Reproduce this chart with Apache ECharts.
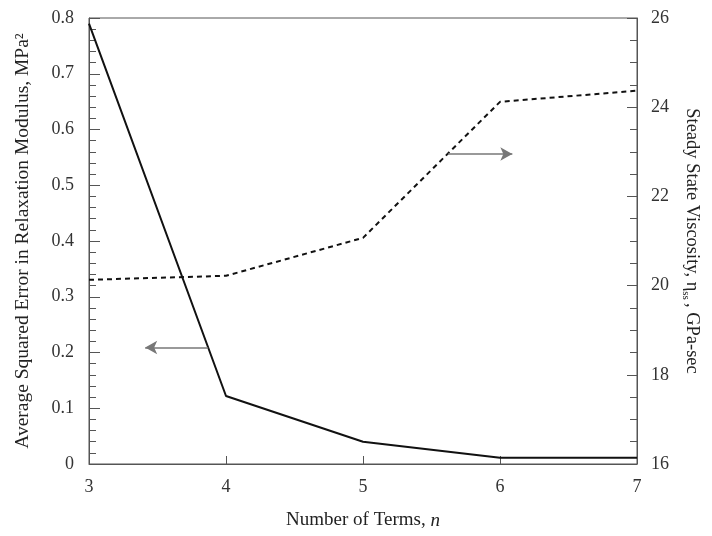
<!DOCTYPE html>
<html>
<head>
<meta charset="utf-8">
<script src="https://cdn.jsdelivr.net/npm/echarts@6/dist/echarts.min.js"></script>
<style>
  html, body { margin: 0; padding: 0; background: #fff; }
  #chart { width: 712px; height: 536px; }
</style>
</head>
<body>
<div id="chart"></div>
<script>
'use strict';

// number of terms in the series
var terms = [3, 4, 5, 6, 7];
// average squared error (left axis, MPa^2)
var errorValues = [0.79, 0.122, 0.040, 0.011, 0.011];
// steady state viscosity (right axis, GPa-sec)
var viscosityValues = [20.13, 20.22, 21.07, 24.12, 24.37];

// the two pointer arrows [x, y] start -> end
var leftArrow = [[3.87, 0.209], [3.41, 0.209]];
var rightArrow = [[5.62, 22.95], [6.09, 22.95]];

var font = 'Liberation Serif, Times New Roman, serif';

function pairs(xs, ys) {
    return xs.map(function (x, i) { return [x, ys[i]]; });
}

var chart = echarts.init(document.getElementById('chart'));

var option = {
    animation: false,
    backgroundColor: '#fff',
    textStyle: { fontFamily: font },
    grid: {
        left: 89, right: 75, top: 18, bottom: 72,
        outerBoundsMode: 'none',
        containLabel: false,
        show: true, borderColor: '#555', borderWidth: 1
    },
    xAxis: {
        type: 'value',
        min: 3, max: 7, interval: 1,
        name: 'Number of Terms, {i|n}',
        nameLocation: 'middle',
        nameGap: 47,
        nameTextStyle: {
            fontFamily: font, fontSize: 19, color: '#222',
            rich: { i: { fontFamily: font, fontSize: 19, fontStyle: 'italic', color: '#222' } }
        },
        axisLine: { lineStyle: { color: '#555', width: 1 } },
        axisTick: { inside: true, length: 8, lineStyle: { color: '#555' } },
        axisLabel: { fontFamily: font, fontSize: 18, color: '#333', margin: 14 },
        splitLine: { show: false }
    },
    yAxis: [{
        type: 'value',
        min: 0, max: 0.8, interval: 0.1,
        name: 'Average Squared Error in Relaxation Modulus, MPa²',
        nameLocation: 'middle',
        nameGap: 56,
        nameTextStyle: { fontFamily: font, fontSize: 19.5, color: '#222' },
        axisLine: { show: true, lineStyle: { color: '#555', width: 1 } },
        axisTick: { inside: true, length: 11, lineStyle: { color: '#555' } },
        minorTick: { show: true, splitNumber: 5, length: 7, lineStyle: { color: '#555' } },
        axisLabel: { fontFamily: font, fontSize: 18, color: '#333', margin: 15 },
        splitLine: { show: false }
    }, {
        type: 'value',
        position: 'right',
        min: 16, max: 26, interval: 2,
        name: 'Steady State Viscosity, η{s|ss}, GPa-sec',
        nameLocation: 'middle',
        nameRotate: -90,
        nameGap: 40,
        nameTextStyle: {
            fontFamily: font, fontSize: 18.5, color: '#222', lineHeight: 24,
            rich: { s: { fontFamily: font, fontSize: 11, color: '#222', lineHeight: 24, verticalAlign: 'bottom', padding: [12, 3, 0, 0] } }
        },
        axisLine: { show: true, lineStyle: { color: '#555', width: 1 } },
        axisTick: { inside: true, length: 10, lineStyle: { color: '#555' } },
        minorTick: { show: true, splitNumber: 4, length: 7, lineStyle: { color: '#555' } },
        axisLabel: { fontFamily: font, fontSize: 18, color: '#333', margin: 14 },
        splitLine: { show: false }
    }],
    series: [{
        name: 'Average Squared Error',
        type: 'line',
        yAxisIndex: 0,
        data: pairs(terms, errorValues),
        showSymbol: false,
        symbol: 'none',
        lineStyle: { color: '#111', width: 2 },
        markLine: {
            silent: true,
            symbol: ['none', 'arrow'],
            symbolSize: [10, 12],
            label: { show: false },
            lineStyle: { color: '#777', type: 'solid', width: 1.5 },
            data: [[{ coord: leftArrow[0] }, { coord: leftArrow[1] }]]
        }
    }, {
        name: 'Steady State Viscosity',
        type: 'line',
        yAxisIndex: 1,
        data: pairs(terms, viscosityValues),
        showSymbol: false,
        symbol: 'none',
        lineStyle: { color: '#111', width: 2, type: [5, 4] },
        markLine: {
            silent: true,
            symbol: ['none', 'arrow'],
            symbolSize: [10, 12],
            label: { show: false },
            lineStyle: { color: '#777', type: 'solid', width: 1.5 },
            data: [[{ coord: rightArrow[0] }, { coord: rightArrow[1] }]]
        }
    }]
};

chart.setOption(option);
</script>
</body>
</html>
